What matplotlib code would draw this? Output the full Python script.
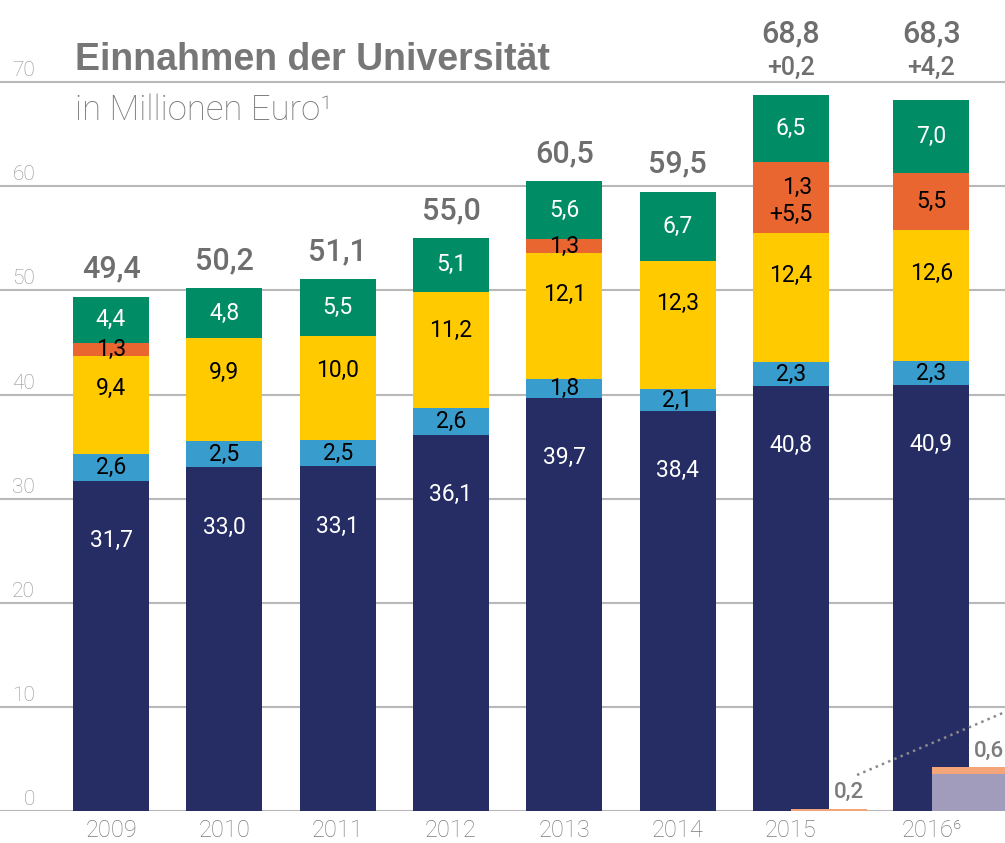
import numpy as np
import matplotlib
matplotlib.use("Agg")
import matplotlib.pyplot as plt
import matplotlib.transforms as mtransforms

plt.rcParams['font.family'] = ['Roboto', 'DejaVu Sans']

# ---------------- data ----------------
years = ["2009", "2010", "2011", "2012", "2013", "2014", "2015", "2016⁶"]
dark = [31.7, 33.0, 33.1, 36.1, 39.7, 38.4, 40.8, 40.9]
lightblue = [2.6, 2.5, 2.5, 2.6, 1.8, 2.1, 2.3, 2.3]
yellow = [9.4, 9.9, 10.0, 11.2, 12.1, 12.3, 12.4, 12.6]
orange_a = [1.3, 0.0, 0.0, 0.0, 1.3, 0.0, 1.3, 0.0]
orange_b = [0.0, 0.0, 0.0, 0.0, 0.0, 0.0, 5.5, 5.5]
green = [4.4, 4.8, 5.5, 5.1, 5.6, 6.7, 6.5, 7.0]
totals = [49.4, 50.2, 51.1, 55.0, 60.5, 59.5, 68.8, 68.3]
extra_total = [None, None, None, None, None, None, 0.2, 4.2]
lavender = [0.0, 0.0, 0.0, 0.0, 0.0, 0.0, 0.0, 3.6]
peach = [0.0, 0.0, 0.0, 0.0, 0.0, 0.0, 0.2, 0.6]
yticks = [0, 10, 20, 30, 40, 50, 60, 70]

# ---------------- style ----------------
C_DARK = "#252d64"
C_LBLUE = "#389dcc"
C_YELLOW = "#ffcb00"
C_ORANGE = "#ea6631"
C_GREEN = "#008c64"
C_PEACH = "#f4a57a"
C_LAV = "#a29cbc"
C_GRID = "#b8b8b8"
C_TOTAL = "#6e6e6e"
C_LIGHT = "#7c7c7c"

fmt = lambda v: f"{v:.1f}".replace(".", ",")

fig = plt.figure(figsize=(10.05, 8.43), dpi=100)
ax = fig.add_axes([0, 32 / 843, 1, 811 / 843])
ax.set_xlim(-0.98, 7.89)
ax.set_ylim(0, 77.9)
ax.axis("off")

n = len(years)
x = np.arange(n, dtype=float)
x[-1] += 0.24
w = 0.67
seg_fs = 16.5

# gridlines + y tick labels
ylab_tr = mtransforms.blended_transform_factory(ax.transAxes, ax.transData)
for yv in yticks:
    ax.axhline(yv, color=C_GRID, lw=1.5, zorder=0)
    ax.annotate(str(yv), xy=(35 / 1005, yv), xycoords=ylab_tr,
                xytext=(0, 4.3), textcoords="offset points",
                ha="right", va="baseline", fontsize=15, color="#909090",
                fontweight="light")

# stacked bars
bottom = np.zeros(n)
layers = [(dark, C_DARK), (lightblue, C_LBLUE), (yellow, C_YELLOW),
          (orange_a, C_ORANGE), (orange_b, C_ORANGE), (green, C_GREEN)]
starts = {}
for i, (vals, col) in enumerate(layers):
    v = np.array(vals)
    ax.bar(x, v, w, bottom=bottom, color=col, zorder=2, linewidth=0)
    starts[i] = bottom.copy()
    bottom = bottom + v

for j in range(n):
    ax.annotate(fmt(dark[j]), xy=(x[j], dark[j]), xytext=(0, -43),
                textcoords="offset points", ha="center", va="center",
                fontsize=seg_fs, color="white", zorder=5)
    b = starts[1][j]
    ax.text(x[j], b + lightblue[j] / 2, fmt(lightblue[j]), ha="center",
            va="center", fontsize=seg_fs, color="black", zorder=5)
    b = starts[2][j]
    ax.text(x[j], b + yellow[j] * 0.67, fmt(yellow[j]), ha="center",
            va="center", fontsize=seg_fs, color="black", zorder=5)
    b = starts[3][j]
    oa, ob = orange_a[j], orange_b[j]
    if oa > 0 and ob > 0:
        ax.text(x[j], b + (oa + ob) / 2 - 0.3, f"{fmt(oa)}\n+{fmt(ob)}",
                ha="center", va="center", multialignment="right",
                linespacing=1.25, fontsize=seg_fs, color="black", zorder=5)
    elif oa > 0 or ob > 0:
        ax.text(x[j], b + (oa + ob) / 2, fmt(oa + ob), ha="center",
                va="center", fontsize=seg_fs, color="black", zorder=5)
    b = starts[5][j]
    ax.text(x[j], b + green[j] / 2, fmt(green[j]), ha="center",
            va="center", fontsize=seg_fs, color="white", zorder=5)

# totals
top_two = max(t for t, e in zip(totals, extra_total) if e is not None)
for j in range(n):
    if extra_total[j] is None:
        ax.annotate(fmt(totals[j]), xy=(x[j], totals[j]), xytext=(0, 13.7),
                    textcoords="offset points", ha="center", va="baseline",
                    fontsize=22, color=C_TOTAL, fontweight="medium")
    else:
        ax.annotate(f"+{fmt(extra_total[j])}", xy=(x[j], top_two),
                    xytext=(0, 14.4), textcoords="offset points",
                    ha="center", va="baseline", fontsize=18, color=C_TOTAL,
                    fontweight="medium")
        ax.annotate(fmt(totals[j]), xy=(x[j], top_two),
                    xytext=(0, 37.4), textcoords="offset points",
                    ha="center", va="baseline", fontsize=22, color=C_TOTAL,
                    fontweight="medium")

# small extra bars (offset half a bar to the right)
off = 0.34
lav = np.array(lavender)
pch = np.array(peach)
ax.bar(x + off, lav, w, color=C_LAV, zorder=3, linewidth=0)
ax.bar(x + off, pch, w, bottom=lav, color=C_PEACH, zorder=3, linewidth=0)
for j in range(n):
    if pch[j] > 0:
        ax.annotate(fmt(pch[j]), xy=(x[j] + off, lav[j] + pch[j]),
                    xytext=(3, 4), textcoords="offset points",
                    ha="left", va="bottom", fontsize=16, color=C_LIGHT,
                    fontweight="medium", zorder=6)

# dotted connector leaving the chart
ax.plot([6.584, 8.3], [3.46, 11.4], color="#8a8a8a", lw=1.8,
        linestyle=(0, (1, 1.7)), zorder=4)

# year labels
for j in range(n):
    ax.annotate(years[j], xy=(x[j], 0), xytext=(0, -22.3),
                textcoords="offset points", ha="center", va="bottom",
                fontsize=17, color=C_LIGHT, fontweight="light",
                annotation_clip=False)

# title / subtitle
fig.text(75 / 1005, 1 - 70 / 843, "Einnahmen der Universität",
         fontsize=27, fontweight="bold", color="#777777",
         family=["Liberation Sans", "DejaVu Sans"],
         ha="left", va="baseline")
fig.text(75 / 1005, 1 - 120 / 843, "in Millionen Euro¹",
         fontsize=25, color="#7a7a7a", fontweight="light",
         ha="left", va="baseline")

fig.savefig("out.png", dpi=100)
